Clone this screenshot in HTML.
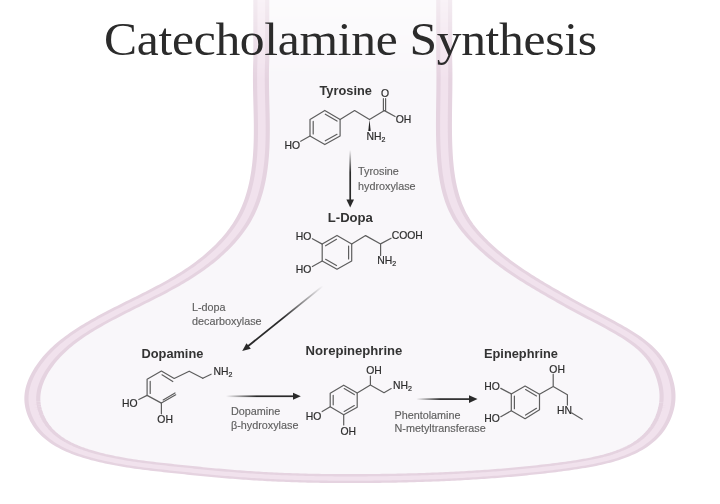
<!DOCTYPE html>
<html><head><meta charset="utf-8">
<style>
html,body{margin:0;padding:0;background:#fff;}
svg{display:block;will-change:transform;}
</style></head>
<body>
<svg width="720" height="504" viewBox="0 0 720 504">
<defs>
<linearGradient id="g1" x1="0" y1="0" x2="0" y2="1"><stop offset="0" stop-color="#2a2a2a" stop-opacity="0"/><stop offset="0.45" stop-color="#2a2a2a" stop-opacity="1"/></linearGradient>
<linearGradient id="g2" gradientUnits="userSpaceOnUse" x1="323" y1="286" x2="242" y2="351"><stop offset="0" stop-color="#2a2a2a" stop-opacity="0"/><stop offset="0.5" stop-color="#2a2a2a" stop-opacity="1"/></linearGradient>
<linearGradient id="g3" x1="0" y1="0" x2="1" y2="0"><stop offset="0" stop-color="#2a2a2a" stop-opacity="0"/><stop offset="0.45" stop-color="#2a2a2a" stop-opacity="1"/></linearGradient>
<linearGradient id="fadeg" gradientUnits="userSpaceOnUse" x1="0" y1="0" x2="0" y2="80"><stop offset="0" stop-color="#fff" stop-opacity="0.45"/><stop offset="1" stop-color="#fff" stop-opacity="1"/></linearGradient>
<mask id="fade" maskUnits="userSpaceOnUse" x="0" y="0" width="720" height="504"><rect x="0" y="0" width="720" height="504" fill="url(#fadeg)"/></mask>
</defs>
<rect width="720" height="504" fill="#fff"/>
<g mask="url(#fade)"><g><g transform="scale(1.77778,1)">
<path d="M146.98,-20.00 L146.98,60.00 L146.92,62.64 L146.87,65.29 L146.84,67.93 L146.81,70.58 L146.79,73.23 L146.78,75.89 L146.78,78.54 L146.79,81.19 L146.80,83.85 L146.82,86.51 L146.84,89.16 L146.87,91.82 L146.90,94.48 L146.94,97.14 L146.97,99.80 L147.01,102.46 L147.05,105.12 L147.09,107.78 L147.12,110.44 L147.16,113.10 L147.19,115.76 L147.22,118.42 L147.24,121.08 L147.26,123.73 L147.27,126.39 L147.27,129.05 L147.27,131.70 L147.26,134.35 L147.24,137.00 L147.21,139.65 L147.17,142.30 L147.12,144.95 L147.06,147.59 L146.98,150.23 L146.89,152.87 L146.79,155.51 L146.67,158.15 L146.53,160.78 L146.38,163.41 L146.21,166.03 L146.02,168.66 L145.82,171.28 L145.59,173.89 L145.34,176.50 L145.07,179.11 L144.78,181.71 L144.47,184.29 L144.13,186.87 L143.77,189.44 L143.38,191.99 L142.96,194.53 L142.52,197.06 L142.06,199.57 L141.56,202.06 L141.03,204.53 L140.48,206.99 L139.89,209.42 L139.27,211.83 L138.62,214.22 L137.93,216.58 L137.22,218.91 L136.46,221.22 L135.68,223.50 L134.86,225.76 L134.01,227.98 L133.13,230.17 L132.22,232.33 L131.28,234.47 L130.32,236.57 L129.34,238.63 L128.34,240.67 L127.31,242.67 L126.27,244.64 L125.21,246.58 L124.13,248.48 L123.04,250.35 L121.93,252.18 L120.82,253.97 L119.69,255.74 L118.55,257.46 L117.40,259.16 L116.24,260.83 L115.06,262.46 L113.88,264.07 L112.69,265.65 L111.49,267.20 L110.27,268.73 L109.05,270.23 L107.82,271.70 L106.59,273.16 L105.34,274.59 L104.09,276.00 L102.83,277.39 L101.56,278.76 L100.28,280.11 L99.00,281.44 L97.72,282.76 L96.42,284.06 L95.13,285.35 L93.82,286.62 L92.52,287.88 L91.20,289.13 L89.89,290.37 L88.57,291.59 L87.24,292.81 L85.92,294.03 L84.59,295.23 L83.26,296.43 L81.93,297.62 L80.59,298.81 L79.25,300.00 L77.92,301.18 L76.58,302.37 L75.24,303.55 L73.90,304.73 L72.56,305.92 L71.22,307.11 L69.89,308.30 L68.55,309.50 L67.22,310.70 L65.89,311.91 L64.56,313.12 L63.23,314.35 L61.90,315.58 L60.58,316.83 L59.27,318.08 L57.95,319.35 L56.64,320.63 L55.34,321.93 L54.04,323.24 L52.74,324.57 L51.45,325.91 L50.17,327.27 L48.89,328.65 L47.62,330.06 L46.36,331.48 L45.11,332.93 L43.87,334.40 L42.64,335.91 L41.43,337.44 L40.22,339.00 L39.04,340.59 L37.86,342.22 L36.71,343.88 L35.57,345.57 L34.45,347.31 L33.36,349.08 L32.28,350.90 L31.22,352.76 L30.19,354.66 L29.18,356.61 L28.20,358.60 L27.24,360.65 L26.31,362.74 L25.41,364.89 L24.54,367.09 L23.70,369.34 L22.90,371.64 L22.14,373.99 L21.44,376.37 L20.79,378.80 L20.20,381.27 L19.67,383.76 L19.22,386.29 L18.84,388.85 L18.54,391.44 L18.33,394.04 L18.21,396.67 L18.19,399.31 L18.27,401.97 L18.45,404.63 L18.72,407.28 L19.08,409.90 L19.52,412.49 L20.05,415.02 L20.64,417.49 L21.30,419.89 L22.03,422.19 L22.81,424.39 L23.65,426.51 L24.54,428.54 L25.49,430.49 L26.48,432.36 L27.53,434.14 L28.62,435.85 L29.75,437.49 L30.92,439.05 L32.13,440.54 L33.37,441.96 L34.65,443.32 L35.96,444.61 L37.30,445.84 L38.66,447.02 L40.05,448.14 L41.46,449.20 L42.89,450.22 L44.34,451.18 L45.80,452.10 L47.27,452.98 L48.75,453.81 L50.24,454.60 L51.74,455.36 L53.24,456.08 L54.74,456.77 L56.24,457.43 L57.73,458.07 L59.22,458.67 L60.70,459.25 L62.19,459.81 L63.66,460.35 L65.14,460.86 L66.61,461.35 L68.08,461.82 L69.55,462.27 L71.01,462.71 L72.47,463.12 L73.93,463.52 L75.39,463.91 L76.85,464.28 L78.31,464.64 L79.76,464.99 L81.22,465.32 L82.67,465.65 L84.13,465.96 L85.59,466.27 L87.04,466.57 L88.50,466.87 L89.96,467.16 L91.42,467.44 L92.88,467.72 L94.34,468.01 L95.81,468.29 L97.28,468.56 L98.75,468.84 L100.22,469.12 L101.69,469.40 L103.17,469.67 L104.65,469.95 L106.13,470.22 L107.61,470.49 L109.09,470.76 L110.58,471.03 L112.06,471.30 L113.55,471.56 L115.04,471.82 L116.53,472.07 L118.02,472.33 L119.51,472.58 L121.00,472.82 L122.50,473.06 L123.99,473.30 L125.48,473.53 L126.98,473.76 L128.47,473.99 L129.97,474.20 L131.46,474.42 L132.96,474.63 L134.45,474.83 L135.95,475.02 L137.44,475.21 L138.93,475.40 L140.43,475.57 L141.92,475.75 L143.41,475.91 L144.91,476.07 L146.40,476.23 L147.89,476.38 L149.38,476.52 L150.88,476.66 L152.37,476.79 L153.86,476.92 L155.35,477.04 L156.84,477.16 L158.33,477.27 L159.83,477.38 L161.32,477.48 L162.81,477.58 L164.30,477.67 L165.79,477.76 L167.28,477.84 L168.77,477.92 L170.26,478.00 L171.75,478.06 L173.24,478.13 L174.73,478.19 L176.23,478.24 L177.72,478.30 L179.21,478.34 L180.70,478.39 L182.19,478.42 L183.68,478.46 L185.17,478.49 L186.66,478.52 L188.15,478.54 L189.64,478.56 L191.13,478.57 L192.62,478.58 L194.12,478.59 L195.61,478.60 L197.10,478.60 L198.59,478.60 L200.08,478.59 L201.57,478.58 L203.06,478.57 L204.56,478.55 L206.05,478.53 L207.54,478.51 L209.03,478.49 L210.53,478.46 L212.02,478.43 L213.51,478.40 L215.01,478.36 L216.50,478.32 L217.99,478.28 L219.49,478.24 L220.98,478.19 L222.48,478.14 L223.97,478.08 L225.47,478.03 L226.96,477.97 L228.45,477.91 L229.95,477.84 L231.44,477.77 L232.94,477.70 L234.43,477.62 L235.93,477.54 L237.42,477.46 L238.92,477.37 L240.41,477.28 L241.91,477.19 L243.40,477.09 L244.90,476.99 L246.39,476.89 L247.88,476.78 L249.38,476.66 L250.87,476.55 L252.37,476.43 L253.86,476.30 L255.35,476.17 L256.84,476.04 L258.34,475.90 L259.83,475.76 L261.32,475.62 L262.81,475.47 L264.30,475.31 L265.79,475.15 L267.29,474.99 L268.78,474.82 L270.27,474.65 L271.75,474.47 L273.24,474.29 L274.73,474.10 L276.22,473.91 L277.71,473.71 L279.19,473.51 L280.68,473.31 L282.17,473.09 L283.65,472.88 L285.14,472.66 L286.62,472.43 L288.10,472.20 L289.59,471.96 L291.07,471.72 L292.55,471.47 L294.03,471.21 L295.51,470.95 L296.99,470.69 L298.47,470.42 L299.95,470.14 L301.43,469.86 L302.90,469.57 L304.38,469.28 L305.85,468.98 L307.33,468.68 L308.80,468.37 L310.27,468.05 L311.74,467.73 L313.22,467.40 L314.68,467.06 L316.15,466.72 L317.62,466.37 L319.09,466.01 L320.56,465.64 L322.03,465.26 L323.50,464.87 L324.97,464.46 L326.45,464.04 L327.93,463.60 L329.41,463.14 L330.89,462.66 L332.38,462.15 L333.88,461.63 L335.38,461.08 L336.87,460.50 L338.37,459.88 L339.86,459.24 L341.35,458.56 L342.83,457.84 L344.30,457.09 L345.76,456.29 L347.20,455.44 L348.64,454.55 L350.05,453.61 L351.45,452.62 L352.83,451.57 L354.19,450.47 L355.52,449.31 L356.83,448.09 L358.11,446.80 L359.37,445.45 L360.59,444.03 L361.78,442.54 L362.93,440.98 L364.05,439.34 L365.13,437.63 L366.17,435.83 L367.17,433.96 L368.12,432.00 L369.03,429.95 L369.89,427.81 L370.70,425.58 L371.46,423.27 L372.17,420.86 L372.81,418.39 L373.40,415.85 L373.92,413.26 L374.37,410.63 L374.75,407.96 L375.06,405.27 L375.28,402.57 L375.42,399.86 L375.48,397.16 L375.46,394.47 L375.36,391.79 L375.19,389.13 L374.95,386.48 L374.64,383.86 L374.28,381.26 L373.87,378.69 L373.40,376.15 L372.88,373.64 L372.32,371.18 L371.70,368.76 L371.03,366.39 L370.31,364.08 L369.54,361.83 L368.72,359.65 L367.85,357.53 L366.93,355.49 L365.97,353.50 L364.97,351.58 L363.93,349.72 L362.85,347.91 L361.74,346.16 L360.60,344.46 L359.43,342.80 L358.23,341.19 L357.00,339.62 L355.76,338.10 L354.49,336.60 L353.21,335.14 L351.92,333.72 L350.61,332.32 L349.30,330.94 L347.97,329.59 L346.65,328.25 L345.32,326.94 L344.00,325.64 L342.67,324.35 L341.34,323.07 L340.02,321.81 L338.69,320.55 L337.37,319.30 L336.04,318.06 L334.72,316.82 L333.40,315.59 L332.08,314.36 L330.76,313.13 L329.44,311.90 L328.13,310.66 L326.82,309.42 L325.51,308.18 L324.20,306.93 L322.89,305.68 L321.59,304.41 L320.29,303.14 L318.99,301.85 L317.70,300.55 L316.41,299.25 L315.11,297.94 L313.82,296.63 L312.52,295.32 L311.23,294.01 L309.94,292.68 L308.65,291.36 L307.35,290.03 L306.07,288.69 L304.78,287.34 L303.49,285.99 L302.21,284.62 L300.93,283.25 L299.66,281.87 L298.38,280.47 L297.12,279.07 L295.85,277.65 L294.60,276.22 L293.34,274.77 L292.10,273.31 L290.85,271.84 L289.62,270.34 L288.39,268.83 L287.17,267.31 L285.95,265.76 L284.75,264.20 L283.55,262.61 L282.36,261.01 L281.18,259.38 L280.01,257.73 L278.84,256.06 L277.69,254.37 L276.55,252.65 L275.42,250.90 L274.30,249.13 L273.19,247.34 L272.09,245.51 L271.00,243.66 L269.93,241.78 L268.87,239.87 L267.82,237.93 L266.80,235.96 L265.79,233.96 L264.81,231.92 L263.85,229.86 L262.92,227.76 L262.02,225.63 L261.16,223.46 L260.33,221.26 L259.54,219.03 L258.80,216.76 L258.09,214.46 L257.42,212.13 L256.79,209.76 L256.20,207.37 L255.64,204.95 L255.11,202.50 L254.62,200.03 L254.16,197.53 L253.73,195.01 L253.33,192.48 L252.96,189.92 L252.61,187.34 L252.30,184.75 L252.00,182.14 L251.73,179.52 L251.49,176.89 L251.26,174.25 L251.06,171.59 L250.88,168.93 L250.71,166.27 L250.56,163.60 L250.43,160.92 L250.31,158.24 L250.21,155.56 L250.12,152.89 L250.04,150.21 L249.97,147.54 L249.91,144.87 L249.86,142.20 L249.82,139.54 L249.79,136.88 L249.76,134.22 L249.74,131.57 L249.73,128.91 L249.72,126.26 L249.72,123.61 L249.73,120.96 L249.73,118.32 L249.75,115.67 L249.76,113.03 L249.78,110.38 L249.80,107.74 L249.82,105.10 L249.84,102.45 L249.86,99.81 L249.89,97.17 L249.91,94.52 L249.93,91.88 L249.95,89.23 L249.96,86.58 L249.97,83.93 L249.98,81.28 L249.99,78.63 L249.99,75.98 L249.98,73.32 L249.97,70.66 L249.96,68.00 L249.93,65.34 L249.90,62.67 L249.86,60.00 L249.86,-20.00 Z" fill="#f9f7fa"/>
<path d="M146.98,-20.00 L146.98,60.00 L146.92,62.64 L146.87,65.29 L146.84,67.93 L146.81,70.58 L146.79,73.23 L146.78,75.89 L146.78,78.54 L146.79,81.19 L146.80,83.85 L146.82,86.51 L146.84,89.16 L146.87,91.82 L146.90,94.48 L146.94,97.14 L146.97,99.80 L147.01,102.46 L147.05,105.12 L147.09,107.78 L147.12,110.44 L147.16,113.10 L147.19,115.76 L147.22,118.42 L147.24,121.08 L147.26,123.73 L147.27,126.39 L147.27,129.05 L147.27,131.70 L147.26,134.35 L147.24,137.00 L147.21,139.65 L147.17,142.30 L147.12,144.95 L147.06,147.59 L146.98,150.23 L146.89,152.87 L146.79,155.51 L146.67,158.15 L146.53,160.78 L146.38,163.41 L146.21,166.03 L146.02,168.66 L145.82,171.28 L145.59,173.89 L145.34,176.50 L145.07,179.11 L144.78,181.71 L144.47,184.29 L144.13,186.87 L143.77,189.44 L143.38,191.99 L142.96,194.53 L142.52,197.06 L142.06,199.57 L141.56,202.06 L141.03,204.53 L140.48,206.99 L139.89,209.42 L139.27,211.83 L138.62,214.22 L137.93,216.58 L137.22,218.91 L136.46,221.22 L135.68,223.50 L134.86,225.76 L134.01,227.98 L133.13,230.17 L132.22,232.33 L131.28,234.47 L130.32,236.57 L129.34,238.63 L128.34,240.67 L127.31,242.67 L126.27,244.64 L125.21,246.58 L124.13,248.48 L123.04,250.35 L121.93,252.18 L120.82,253.97 L119.69,255.74 L118.55,257.46 L117.40,259.16 L116.24,260.83 L115.06,262.46 L113.88,264.07 L112.69,265.65 L111.49,267.20 L110.27,268.73 L109.05,270.23 L107.82,271.70 L106.59,273.16 L105.34,274.59 L104.09,276.00 L102.83,277.39 L101.56,278.76 L100.28,280.11 L99.00,281.44 L97.72,282.76 L96.42,284.06 L95.13,285.35 L93.82,286.62 L92.52,287.88 L91.20,289.13 L89.89,290.37 L88.57,291.59 L87.24,292.81 L85.92,294.03 L84.59,295.23 L83.26,296.43 L81.93,297.62 L80.59,298.81 L79.25,300.00 L77.92,301.18 L76.58,302.37 L75.24,303.55 L73.90,304.73 L72.56,305.92 L71.22,307.11 L69.89,308.30 L68.55,309.50 L67.22,310.70 L65.89,311.91 L64.56,313.12 L63.23,314.35 L61.90,315.58 L60.58,316.83 L59.27,318.08 L57.95,319.35 L56.64,320.63 L55.34,321.93 L54.04,323.24 L52.74,324.57 L51.45,325.91 L50.17,327.27 L48.89,328.65 L47.62,330.06 L46.36,331.48 L45.11,332.93 L43.87,334.40 L42.64,335.91 L41.43,337.44 L40.22,339.00 L39.04,340.59 L37.86,342.22 L36.71,343.88 L35.57,345.57 L34.45,347.31 L33.36,349.08 L32.28,350.90 L31.22,352.76 L30.19,354.66 L29.18,356.61 L28.20,358.60 L27.24,360.65 L26.31,362.74 L25.41,364.89 L24.54,367.09 L23.70,369.34 L22.90,371.64 L22.14,373.99 L21.44,376.37 L20.79,378.80 L20.20,381.27 L19.67,383.76 L19.22,386.29 L18.84,388.85 L18.54,391.44 L18.33,394.04 L18.21,396.67 L18.19,399.31 L18.27,401.97 L18.45,404.63 L18.72,407.28 L19.08,409.90 L19.52,412.49 L20.05,415.02 L20.64,417.49 L21.30,419.89 L22.03,422.19 L22.81,424.39 L23.65,426.51 L24.54,428.54 L25.49,430.49 L26.48,432.36 L27.53,434.14 L28.62,435.85 L29.75,437.49 L30.92,439.05 L32.13,440.54 L33.37,441.96 L34.65,443.32 L35.96,444.61 L37.30,445.84 L38.66,447.02 L40.05,448.14 L41.46,449.20 L42.89,450.22 L44.34,451.18 L45.80,452.10 L47.27,452.98 L48.75,453.81 L50.24,454.60 L51.74,455.36 L53.24,456.08 L54.74,456.77 L56.24,457.43 L57.73,458.07 L59.22,458.67 L60.70,459.25 L62.19,459.81 L63.66,460.35 L65.14,460.86 L66.61,461.35 L68.08,461.82 L69.55,462.27 L71.01,462.71 L72.47,463.12 L73.93,463.52 L75.39,463.91 L76.85,464.28 L78.31,464.64 L79.76,464.99 L81.22,465.32 L82.67,465.65 L84.13,465.96 L85.59,466.27 L87.04,466.57 L88.50,466.87 L89.96,467.16 L91.42,467.44 L92.88,467.72 L94.34,468.01 L95.81,468.29 L97.28,468.56 L98.75,468.84 L100.22,469.12 L101.69,469.40 L103.17,469.67 L104.65,469.95 L106.13,470.22 L107.61,470.49 L109.09,470.76 L110.58,471.03 L112.06,471.30 L113.55,471.56 L115.04,471.82 L116.53,472.07 L118.02,472.33 L119.51,472.58 L121.00,472.82 L122.50,473.06 L123.99,473.30 L125.48,473.53 L126.98,473.76 L128.47,473.99 L129.97,474.20 L131.46,474.42 L132.96,474.63 L134.45,474.83 L135.95,475.02 L137.44,475.21 L138.93,475.40 L140.43,475.57 L141.92,475.75 L143.41,475.91 L144.91,476.07 L146.40,476.23 L147.89,476.38 L149.38,476.52 L150.88,476.66 L152.37,476.79 L153.86,476.92 L155.35,477.04 L156.84,477.16 L158.33,477.27 L159.83,477.38 L161.32,477.48 L162.81,477.58 L164.30,477.67 L165.79,477.76 L167.28,477.84 L168.77,477.92 L170.26,478.00 L171.75,478.06 L173.24,478.13 L174.73,478.19 L176.23,478.24 L177.72,478.30 L179.21,478.34 L180.70,478.39 L182.19,478.42 L183.68,478.46 L185.17,478.49 L186.66,478.52 L188.15,478.54 L189.64,478.56 L191.13,478.57 L192.62,478.58 L194.12,478.59 L195.61,478.60 L197.10,478.60 L198.59,478.60 L200.08,478.59 L201.57,478.58 L203.06,478.57 L204.56,478.55 L206.05,478.53 L207.54,478.51 L209.03,478.49 L210.53,478.46 L212.02,478.43 L213.51,478.40 L215.01,478.36 L216.50,478.32 L217.99,478.28 L219.49,478.24 L220.98,478.19 L222.48,478.14 L223.97,478.08 L225.47,478.03 L226.96,477.97 L228.45,477.91 L229.95,477.84 L231.44,477.77 L232.94,477.70 L234.43,477.62 L235.93,477.54 L237.42,477.46 L238.92,477.37 L240.41,477.28 L241.91,477.19 L243.40,477.09 L244.90,476.99 L246.39,476.89 L247.88,476.78 L249.38,476.66 L250.87,476.55 L252.37,476.43 L253.86,476.30 L255.35,476.17 L256.84,476.04 L258.34,475.90 L259.83,475.76 L261.32,475.62 L262.81,475.47 L264.30,475.31 L265.79,475.15 L267.29,474.99 L268.78,474.82 L270.27,474.65 L271.75,474.47 L273.24,474.29 L274.73,474.10 L276.22,473.91 L277.71,473.71 L279.19,473.51 L280.68,473.31 L282.17,473.09 L283.65,472.88 L285.14,472.66 L286.62,472.43 L288.10,472.20 L289.59,471.96 L291.07,471.72 L292.55,471.47 L294.03,471.21 L295.51,470.95 L296.99,470.69 L298.47,470.42 L299.95,470.14 L301.43,469.86 L302.90,469.57 L304.38,469.28 L305.85,468.98 L307.33,468.68 L308.80,468.37 L310.27,468.05 L311.74,467.73 L313.22,467.40 L314.68,467.06 L316.15,466.72 L317.62,466.37 L319.09,466.01 L320.56,465.64 L322.03,465.26 L323.50,464.87 L324.97,464.46 L326.45,464.04 L327.93,463.60 L329.41,463.14 L330.89,462.66 L332.38,462.15 L333.88,461.63 L335.38,461.08 L336.87,460.50 L338.37,459.88 L339.86,459.24 L341.35,458.56 L342.83,457.84 L344.30,457.09 L345.76,456.29 L347.20,455.44 L348.64,454.55 L350.05,453.61 L351.45,452.62 L352.83,451.57 L354.19,450.47 L355.52,449.31 L356.83,448.09 L358.11,446.80 L359.37,445.45 L360.59,444.03 L361.78,442.54 L362.93,440.98 L364.05,439.34 L365.13,437.63 L366.17,435.83 L367.17,433.96 L368.12,432.00 L369.03,429.95 L369.89,427.81 L370.70,425.58 L371.46,423.27 L372.17,420.86 L372.81,418.39 L373.40,415.85 L373.92,413.26 L374.37,410.63 L374.75,407.96 L375.06,405.27 L375.28,402.57 L375.42,399.86 L375.48,397.16 L375.46,394.47 L375.36,391.79 L375.19,389.13 L374.95,386.48 L374.64,383.86 L374.28,381.26 L373.87,378.69 L373.40,376.15 L372.88,373.64 L372.32,371.18 L371.70,368.76 L371.03,366.39 L370.31,364.08 L369.54,361.83 L368.72,359.65 L367.85,357.53 L366.93,355.49 L365.97,353.50 L364.97,351.58 L363.93,349.72 L362.85,347.91 L361.74,346.16 L360.60,344.46 L359.43,342.80 L358.23,341.19 L357.00,339.62 L355.76,338.10 L354.49,336.60 L353.21,335.14 L351.92,333.72 L350.61,332.32 L349.30,330.94 L347.97,329.59 L346.65,328.25 L345.32,326.94 L344.00,325.64 L342.67,324.35 L341.34,323.07 L340.02,321.81 L338.69,320.55 L337.37,319.30 L336.04,318.06 L334.72,316.82 L333.40,315.59 L332.08,314.36 L330.76,313.13 L329.44,311.90 L328.13,310.66 L326.82,309.42 L325.51,308.18 L324.20,306.93 L322.89,305.68 L321.59,304.41 L320.29,303.14 L318.99,301.85 L317.70,300.55 L316.41,299.25 L315.11,297.94 L313.82,296.63 L312.52,295.32 L311.23,294.01 L309.94,292.68 L308.65,291.36 L307.35,290.03 L306.07,288.69 L304.78,287.34 L303.49,285.99 L302.21,284.62 L300.93,283.25 L299.66,281.87 L298.38,280.47 L297.12,279.07 L295.85,277.65 L294.60,276.22 L293.34,274.77 L292.10,273.31 L290.85,271.84 L289.62,270.34 L288.39,268.83 L287.17,267.31 L285.95,265.76 L284.75,264.20 L283.55,262.61 L282.36,261.01 L281.18,259.38 L280.01,257.73 L278.84,256.06 L277.69,254.37 L276.55,252.65 L275.42,250.90 L274.30,249.13 L273.19,247.34 L272.09,245.51 L271.00,243.66 L269.93,241.78 L268.87,239.87 L267.82,237.93 L266.80,235.96 L265.79,233.96 L264.81,231.92 L263.85,229.86 L262.92,227.76 L262.02,225.63 L261.16,223.46 L260.33,221.26 L259.54,219.03 L258.80,216.76 L258.09,214.46 L257.42,212.13 L256.79,209.76 L256.20,207.37 L255.64,204.95 L255.11,202.50 L254.62,200.03 L254.16,197.53 L253.73,195.01 L253.33,192.48 L252.96,189.92 L252.61,187.34 L252.30,184.75 L252.00,182.14 L251.73,179.52 L251.49,176.89 L251.26,174.25 L251.06,171.59 L250.88,168.93 L250.71,166.27 L250.56,163.60 L250.43,160.92 L250.31,158.24 L250.21,155.56 L250.12,152.89 L250.04,150.21 L249.97,147.54 L249.91,144.87 L249.86,142.20 L249.82,139.54 L249.79,136.88 L249.76,134.22 L249.74,131.57 L249.73,128.91 L249.72,126.26 L249.72,123.61 L249.73,120.96 L249.73,118.32 L249.75,115.67 L249.76,113.03 L249.78,110.38 L249.80,107.74 L249.82,105.10 L249.84,102.45 L249.86,99.81 L249.89,97.17 L249.91,94.52 L249.93,91.88 L249.95,89.23 L249.96,86.58 L249.97,83.93 L249.98,81.28 L249.99,78.63 L249.99,75.98 L249.98,73.32 L249.97,70.66 L249.96,68.00 L249.93,65.34 L249.90,62.67 L249.86,60.00 L249.86,-20.00" fill="none" stroke="#e5d3e0" stroke-width="9"/>
<path d="M146.98,-20.00 L146.98,60.00 L146.92,62.64 L146.87,65.29 L146.84,67.93 L146.81,70.58 L146.79,73.23 L146.78,75.89 L146.78,78.54 L146.79,81.19 L146.80,83.85 L146.82,86.51 L146.84,89.16 L146.87,91.82 L146.90,94.48 L146.94,97.14 L146.97,99.80 L147.01,102.46 L147.05,105.12 L147.09,107.78 L147.12,110.44 L147.16,113.10 L147.19,115.76 L147.22,118.42 L147.24,121.08 L147.26,123.73 L147.27,126.39 L147.27,129.05 L147.27,131.70 L147.26,134.35 L147.24,137.00 L147.21,139.65 L147.17,142.30 L147.12,144.95 L147.06,147.59 L146.98,150.23 L146.89,152.87 L146.79,155.51 L146.67,158.15 L146.53,160.78 L146.38,163.41 L146.21,166.03 L146.02,168.66 L145.82,171.28 L145.59,173.89 L145.34,176.50 L145.07,179.11 L144.78,181.71 L144.47,184.29 L144.13,186.87 L143.77,189.44 L143.38,191.99 L142.96,194.53 L142.52,197.06 L142.06,199.57 L141.56,202.06 L141.03,204.53 L140.48,206.99 L139.89,209.42 L139.27,211.83 L138.62,214.22 L137.93,216.58 L137.22,218.91 L136.46,221.22 L135.68,223.50 L134.86,225.76 L134.01,227.98 L133.13,230.17 L132.22,232.33 L131.28,234.47 L130.32,236.57 L129.34,238.63 L128.34,240.67 L127.31,242.67 L126.27,244.64 L125.21,246.58 L124.13,248.48 L123.04,250.35 L121.93,252.18 L120.82,253.97 L119.69,255.74 L118.55,257.46 L117.40,259.16 L116.24,260.83 L115.06,262.46 L113.88,264.07 L112.69,265.65 L111.49,267.20 L110.27,268.73 L109.05,270.23 L107.82,271.70 L106.59,273.16 L105.34,274.59 L104.09,276.00 L102.83,277.39 L101.56,278.76 L100.28,280.11 L99.00,281.44 L97.72,282.76 L96.42,284.06 L95.13,285.35 L93.82,286.62 L92.52,287.88 L91.20,289.13 L89.89,290.37 L88.57,291.59 L87.24,292.81 L85.92,294.03 L84.59,295.23 L83.26,296.43 L81.93,297.62 L80.59,298.81 L79.25,300.00 L77.92,301.18 L76.58,302.37 L75.24,303.55 L73.90,304.73 L72.56,305.92 L71.22,307.11 L69.89,308.30 L68.55,309.50 L67.22,310.70 L65.89,311.91 L64.56,313.12 L63.23,314.35 L61.90,315.58 L60.58,316.83 L59.27,318.08 L57.95,319.35 L56.64,320.63 L55.34,321.93 L54.04,323.24 L52.74,324.57 L51.45,325.91 L50.17,327.27 L48.89,328.65 L47.62,330.06 L46.36,331.48 L45.11,332.93 L43.87,334.40 L42.64,335.91 L41.43,337.44 L40.22,339.00 L39.04,340.59 L37.86,342.22 L36.71,343.88 L35.57,345.57 L34.45,347.31 L33.36,349.08 L32.28,350.90 L31.22,352.76 L30.19,354.66 L29.18,356.61 L28.20,358.60 L27.24,360.65 L26.31,362.74 L25.41,364.89 L24.54,367.09 L23.70,369.34 L22.90,371.64 L22.14,373.99 L21.44,376.37 L20.79,378.80 L20.20,381.27 L19.67,383.76 L19.22,386.29 L18.84,388.85 L18.54,391.44 L18.33,394.04 L18.21,396.67 L18.19,399.31 L18.27,401.97 L18.45,404.63 L18.72,407.28 L19.08,409.90 L19.52,412.49 L20.05,415.02 L20.64,417.49 L21.30,419.89 L22.03,422.19 L22.81,424.39 L23.65,426.51 L24.54,428.54 L25.49,430.49 L26.48,432.36 L27.53,434.14 L28.62,435.85 L29.75,437.49 L30.92,439.05 L32.13,440.54 L33.37,441.96 L34.65,443.32 L35.96,444.61 L37.30,445.84 L38.66,447.02 L40.05,448.14 L41.46,449.20 L42.89,450.22 L44.34,451.18 L45.80,452.10 L47.27,452.98 L48.75,453.81 L50.24,454.60 L51.74,455.36 L53.24,456.08 L54.74,456.77 L56.24,457.43 L57.73,458.07 L59.22,458.67 L60.70,459.25 L62.19,459.81 L63.66,460.35 L65.14,460.86 L66.61,461.35 L68.08,461.82 L69.55,462.27 L71.01,462.71 L72.47,463.12 L73.93,463.52 L75.39,463.91 L76.85,464.28 L78.31,464.64 L79.76,464.99 L81.22,465.32 L82.67,465.65 L84.13,465.96 L85.59,466.27 L87.04,466.57 L88.50,466.87 L89.96,467.16 L91.42,467.44 L92.88,467.72 L94.34,468.01 L95.81,468.29 L97.28,468.56 L98.75,468.84 L100.22,469.12 L101.69,469.40 L103.17,469.67 L104.65,469.95 L106.13,470.22 L107.61,470.49 L109.09,470.76 L110.58,471.03 L112.06,471.30 L113.55,471.56 L115.04,471.82 L116.53,472.07 L118.02,472.33 L119.51,472.58 L121.00,472.82 L122.50,473.06 L123.99,473.30 L125.48,473.53 L126.98,473.76 L128.47,473.99 L129.97,474.20 L131.46,474.42 L132.96,474.63 L134.45,474.83 L135.95,475.02 L137.44,475.21 L138.93,475.40 L140.43,475.57 L141.92,475.75 L143.41,475.91 L144.91,476.07 L146.40,476.23 L147.89,476.38 L149.38,476.52 L150.88,476.66 L152.37,476.79 L153.86,476.92 L155.35,477.04 L156.84,477.16 L158.33,477.27 L159.83,477.38 L161.32,477.48 L162.81,477.58 L164.30,477.67 L165.79,477.76 L167.28,477.84 L168.77,477.92 L170.26,478.00 L171.75,478.06 L173.24,478.13 L174.73,478.19 L176.23,478.24 L177.72,478.30 L179.21,478.34 L180.70,478.39 L182.19,478.42 L183.68,478.46 L185.17,478.49 L186.66,478.52 L188.15,478.54 L189.64,478.56 L191.13,478.57 L192.62,478.58 L194.12,478.59 L195.61,478.60 L197.10,478.60 L198.59,478.60 L200.08,478.59 L201.57,478.58 L203.06,478.57 L204.56,478.55 L206.05,478.53 L207.54,478.51 L209.03,478.49 L210.53,478.46 L212.02,478.43 L213.51,478.40 L215.01,478.36 L216.50,478.32 L217.99,478.28 L219.49,478.24 L220.98,478.19 L222.48,478.14 L223.97,478.08 L225.47,478.03 L226.96,477.97 L228.45,477.91 L229.95,477.84 L231.44,477.77 L232.94,477.70 L234.43,477.62 L235.93,477.54 L237.42,477.46 L238.92,477.37 L240.41,477.28 L241.91,477.19 L243.40,477.09 L244.90,476.99 L246.39,476.89 L247.88,476.78 L249.38,476.66 L250.87,476.55 L252.37,476.43 L253.86,476.30 L255.35,476.17 L256.84,476.04 L258.34,475.90 L259.83,475.76 L261.32,475.62 L262.81,475.47 L264.30,475.31 L265.79,475.15 L267.29,474.99 L268.78,474.82 L270.27,474.65 L271.75,474.47 L273.24,474.29 L274.73,474.10 L276.22,473.91 L277.71,473.71 L279.19,473.51 L280.68,473.31 L282.17,473.09 L283.65,472.88 L285.14,472.66 L286.62,472.43 L288.10,472.20 L289.59,471.96 L291.07,471.72 L292.55,471.47 L294.03,471.21 L295.51,470.95 L296.99,470.69 L298.47,470.42 L299.95,470.14 L301.43,469.86 L302.90,469.57 L304.38,469.28 L305.85,468.98 L307.33,468.68 L308.80,468.37 L310.27,468.05 L311.74,467.73 L313.22,467.40 L314.68,467.06 L316.15,466.72 L317.62,466.37 L319.09,466.01 L320.56,465.64 L322.03,465.26 L323.50,464.87 L324.97,464.46 L326.45,464.04 L327.93,463.60 L329.41,463.14 L330.89,462.66 L332.38,462.15 L333.88,461.63 L335.38,461.08 L336.87,460.50 L338.37,459.88 L339.86,459.24 L341.35,458.56 L342.83,457.84 L344.30,457.09 L345.76,456.29 L347.20,455.44 L348.64,454.55 L350.05,453.61 L351.45,452.62 L352.83,451.57 L354.19,450.47 L355.52,449.31 L356.83,448.09 L358.11,446.80 L359.37,445.45 L360.59,444.03 L361.78,442.54 L362.93,440.98 L364.05,439.34 L365.13,437.63 L366.17,435.83 L367.17,433.96 L368.12,432.00 L369.03,429.95 L369.89,427.81 L370.70,425.58 L371.46,423.27 L372.17,420.86 L372.81,418.39 L373.40,415.85 L373.92,413.26 L374.37,410.63 L374.75,407.96 L375.06,405.27 L375.28,402.57 L375.42,399.86 L375.48,397.16 L375.46,394.47 L375.36,391.79 L375.19,389.13 L374.95,386.48 L374.64,383.86 L374.28,381.26 L373.87,378.69 L373.40,376.15 L372.88,373.64 L372.32,371.18 L371.70,368.76 L371.03,366.39 L370.31,364.08 L369.54,361.83 L368.72,359.65 L367.85,357.53 L366.93,355.49 L365.97,353.50 L364.97,351.58 L363.93,349.72 L362.85,347.91 L361.74,346.16 L360.60,344.46 L359.43,342.80 L358.23,341.19 L357.00,339.62 L355.76,338.10 L354.49,336.60 L353.21,335.14 L351.92,333.72 L350.61,332.32 L349.30,330.94 L347.97,329.59 L346.65,328.25 L345.32,326.94 L344.00,325.64 L342.67,324.35 L341.34,323.07 L340.02,321.81 L338.69,320.55 L337.37,319.30 L336.04,318.06 L334.72,316.82 L333.40,315.59 L332.08,314.36 L330.76,313.13 L329.44,311.90 L328.13,310.66 L326.82,309.42 L325.51,308.18 L324.20,306.93 L322.89,305.68 L321.59,304.41 L320.29,303.14 L318.99,301.85 L317.70,300.55 L316.41,299.25 L315.11,297.94 L313.82,296.63 L312.52,295.32 L311.23,294.01 L309.94,292.68 L308.65,291.36 L307.35,290.03 L306.07,288.69 L304.78,287.34 L303.49,285.99 L302.21,284.62 L300.93,283.25 L299.66,281.87 L298.38,280.47 L297.12,279.07 L295.85,277.65 L294.60,276.22 L293.34,274.77 L292.10,273.31 L290.85,271.84 L289.62,270.34 L288.39,268.83 L287.17,267.31 L285.95,265.76 L284.75,264.20 L283.55,262.61 L282.36,261.01 L281.18,259.38 L280.01,257.73 L278.84,256.06 L277.69,254.37 L276.55,252.65 L275.42,250.90 L274.30,249.13 L273.19,247.34 L272.09,245.51 L271.00,243.66 L269.93,241.78 L268.87,239.87 L267.82,237.93 L266.80,235.96 L265.79,233.96 L264.81,231.92 L263.85,229.86 L262.92,227.76 L262.02,225.63 L261.16,223.46 L260.33,221.26 L259.54,219.03 L258.80,216.76 L258.09,214.46 L257.42,212.13 L256.79,209.76 L256.20,207.37 L255.64,204.95 L255.11,202.50 L254.62,200.03 L254.16,197.53 L253.73,195.01 L253.33,192.48 L252.96,189.92 L252.61,187.34 L252.30,184.75 L252.00,182.14 L251.73,179.52 L251.49,176.89 L251.26,174.25 L251.06,171.59 L250.88,168.93 L250.71,166.27 L250.56,163.60 L250.43,160.92 L250.31,158.24 L250.21,155.56 L250.12,152.89 L250.04,150.21 L249.97,147.54 L249.91,144.87 L249.86,142.20 L249.82,139.54 L249.79,136.88 L249.76,134.22 L249.74,131.57 L249.73,128.91 L249.72,126.26 L249.72,123.61 L249.73,120.96 L249.73,118.32 L249.75,115.67 L249.76,113.03 L249.78,110.38 L249.80,107.74 L249.82,105.10 L249.84,102.45 L249.86,99.81 L249.89,97.17 L249.91,94.52 L249.93,91.88 L249.95,89.23 L249.96,86.58 L249.97,83.93 L249.98,81.28 L249.99,78.63 L249.99,75.98 L249.98,73.32 L249.97,70.66 L249.96,68.00 L249.93,65.34 L249.90,62.67 L249.86,60.00 L249.86,-20.00" fill="none" stroke="#f1e2ed" stroke-width="4.3"/>
</g></g></g>
<text transform="translate(0,55.3) scale(1,0.955) translate(0,-55.3)" x="104.1" y="55.3" font-family="Liberation Serif" font-size="49.6" letter-spacing="-0.32" fill="#2b2b2b">Catecholamine Synthesis</text>
<g font-family="Liberation Sans" font-weight="bold" font-size="12.8" fill="#333">
<text x="319.5" y="95">Tyrosine</text>
<text x="327.8" y="221.7" font-size="13.1">L-Dopa</text>
<text x="141.5" y="357.5">Dopamine</text>
<text x="305.6" y="354.8" font-size="13.1">Norepinephrine</text>
<text x="484" y="358">Epinephrine</text>
</g>
<g font-family="Liberation Sans" font-size="10.8" fill="#5f5f5f" stroke="#5f5f5f" stroke-width="0.15" transform="translate(0,-0.4)">
<text x="358" y="175.7">Tyrosine</text>
<text x="358" y="190.2">hydroxylase</text>
<text x="192" y="311">L-dopa</text>
<text x="192" y="325">decarboxylase</text>
<text x="231" y="415.6">Dopamine</text>
<text x="231" y="429.4">β-hydroxylase</text>
<text x="394.5" y="419">Phentolamine</text>
<text x="394.5" y="432.7">N-metyltransferase</text>
</g>
<!-- arrows -->
<g>
<rect x="349.35" y="150" width="1.7" height="50" fill="url(#g1)"/>
<path d="M346.4,199.5 L354,199.5 L350.2,207.6 Z" fill="#2a2a2a"/>
<line x1="323.3" y1="285.6" x2="247" y2="347" stroke="url(#g2)" stroke-width="1.8"/>
<path d="M242.2,351.1 L246.5,343.2 L250.8,348.7 Z" fill="#2a2a2a"/>
<rect x="226" y="395.4" width="68" height="1.7" fill="url(#g3)"/>
<path d="M293,392.8 L300.8,396.25 L293,399.7 Z" fill="#2a2a2a"/>
<rect x="416.3" y="398.25" width="53.5" height="1.7" fill="url(#g3)"/>
<path d="M469,395.3 L477.5,399.1 L469,402.9 Z" fill="#2a2a2a"/>
</g>
<!-- bonds -->
<g fill="none" stroke="#5e5e5e" stroke-width="1.2" stroke-linejoin="round" stroke-linecap="round">
<!-- Tyrosine -->
<path d="M324.8,110.4 L340.1,119.4 L340.1,136 L324.8,144.6 L310,136 L310,119.4 Z"/>
<path d="M325.3,114.2 L337,121.1 M313.2,121.4 L313.2,134 M325.3,140.8 L337,134.3"/>
<path d="M340.1,119.4 L354.6,110.6 L369.5,119.5 L384.4,110.6 L395.1,116.5 M310,136 L300.7,141.3"/>
<path d="M383.4,110.6 L383.4,98.7 M385.6,110.6 L385.6,98.7"/>
<!-- L-Dopa -->
<path d="M337,235.4 L351.7,244.1 L351.7,261 L337,269.2 L322.2,261 L322.2,244.1 Z"/>
<path d="M325.6,245.8 L336.5,239.3 M348.6,246 L348.6,259 M325.6,259.3 L336.5,265.5"/>
<path d="M351.7,244.1 L365.6,235.6 L380.6,243.9 L391.1,238.3 M380.6,243.9 L380.6,255.6 M322.2,244.1 L312.4,238.7 M322.2,261 L312.4,266.5"/>
<!-- Dopamine -->
<path d="M202.8,378.3 L189.2,371.2 L174.2,378.5 L161.4,371 L147.1,379.3 L147.1,395.4 L161.4,403.1 L175.7,394.8"/>
<path d="M150.2,381.3 L150.2,393.5 M162,374.8 L172.8,381.5 M163.2,400 L175,393 M202.8,378.3 L211.1,374.2 M147.1,395.4 L138.8,399.5 M161.4,403.1 L161.4,413.8"/>
<!-- Norepinephrine -->
<path d="M343.7,385.2 L357.2,393 L357.2,407.2 L343.7,414.8 L330.2,406.8 L330.2,393.3 Z"/>
<path d="M344.2,388.6 L354.3,394.6 M333.2,395.3 L333.2,404.8 M344.2,411.4 L354.3,405.6"/>
<path d="M357.2,393 L370.4,385 L384,392.7 L391.2,388.6 M370.4,385 L370.4,376.1 M330.2,406.8 L322.2,411.6 M343.7,414.8 L343.7,425"/>
<!-- Epinephrine -->
<path d="M525.1,386 L539.5,394.2 L539.5,409.8 L525.1,418.7 L511.3,410.8 L511.3,393.9 Z"/>
<path d="M525.6,389.6 L536.5,395.9 M514.4,396 L514.4,408.7 M525.6,415.1 L536.5,408.3"/>
<path d="M539.5,394.2 L553.2,386.4 L567.4,394.8 L567.4,405.1 M553.2,386.4 L553.2,374.2 M511.3,393.9 L500.8,388.4 M511.3,410.8 L500.8,416.7 M571.9,412.9 L582.2,419.3"/>
</g>
<path d="M369.5,119.5 L368.3,131 L370.7,131 Z" fill="#222"/>
<!-- atom labels -->
<g font-family="Liberation Sans" font-size="10.4" fill="#2d2d2d" stroke="#2d2d2d" stroke-width="0.2">
<text x="381" y="97">O</text>
<text x="395.7" y="123.1">OH</text>
<text x="366.5" y="139.8">NH<tspan font-size="7" dy="2">2</tspan></text>
<text x="300.2" y="148.6" text-anchor="end">HO</text>
<text x="311.3" y="239.7" text-anchor="end">HO</text>
<text x="311.3" y="273" text-anchor="end">HO</text>
<text x="391.7" y="239.4">COOH</text>
<text x="377.2" y="264.4">NH<tspan font-size="7" dy="2">2</tspan></text>
<text x="213.4" y="375.3">NH<tspan font-size="7" dy="2">2</tspan></text>
<text x="137.6" y="407.3" text-anchor="end">HO</text>
<text x="157.3" y="423.3">OH</text>
<text x="321.4" y="420.3" text-anchor="end">HO</text>
<text x="340.5" y="434.6">OH</text>
<text x="366.2" y="374.3">OH</text>
<text x="393" y="389.2">NH<tspan font-size="7" dy="2">2</tspan></text>
<text x="499.8" y="389.9" text-anchor="end">HO</text>
<text x="499.8" y="422.2" text-anchor="end">HO</text>
<text x="549.3" y="372.9">OH</text>
<text x="557" y="414.1">HN</text>
</g>

</svg>
</body></html>
